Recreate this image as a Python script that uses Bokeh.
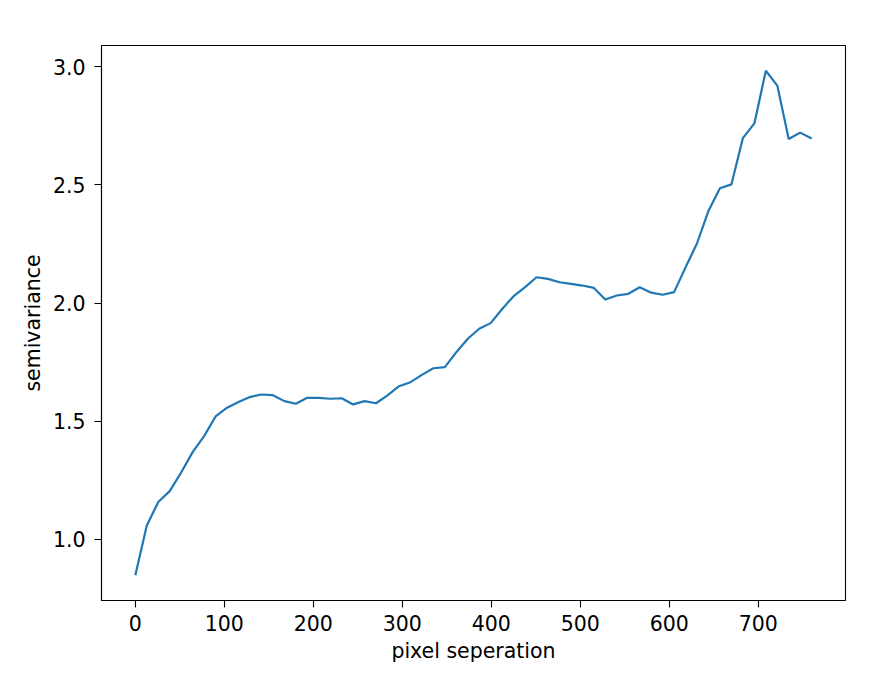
from bokeh.plotting import figure
from bokeh.models import Range1d, FixedTicker, NumeralTickFormatter
from bokeh.embed import file_html
from bokeh.resources import INLINE

# pixel separation (lag) values
lags = [0.0, 12.9, 25.8, 38.6, 51.5, 64.4, 77.3, 90.2, 103.1, 115.9,
        128.8, 141.7, 154.6, 167.5, 180.3, 193.2, 206.1, 219.0, 231.9, 244.7,
        257.6, 270.5, 283.4, 296.3, 309.2, 322.0, 334.9, 347.8, 360.7, 373.6,
        386.4, 399.3, 412.2, 425.1, 438.0, 450.8, 463.7, 476.6, 489.5, 502.4,
        515.3, 528.1, 541.0, 553.9, 566.8, 579.7, 592.5, 605.4, 618.3, 631.2,
        644.1, 656.9, 669.8, 682.7, 695.6, 708.5, 721.4, 734.2, 747.1, 760.0]

# semivariance values
semivariance = [0.848, 1.059, 1.158, 1.204, 1.283, 1.369, 1.437, 1.520, 1.557, 1.581,
                1.602, 1.613, 1.610, 1.585, 1.574, 1.599, 1.599, 1.595, 1.597, 1.571,
                1.585, 1.576, 1.609, 1.648, 1.665, 1.696, 1.724, 1.729, 1.792, 1.849,
                1.891, 1.915, 1.975, 2.029, 2.067, 2.109, 2.102, 2.088, 2.081, 2.074,
                2.064, 2.015, 2.032, 2.039, 2.067, 2.044, 2.035, 2.046, 2.151, 2.253,
                2.391, 2.486, 2.502, 2.698, 2.760, 2.983, 2.920, 2.694, 2.721, 2.696]

x_ticks = [0, 100, 200, 300, 400, 500, 600, 700]
y_ticks = [1.0, 1.5, 2.0, 2.5, 3.0]

x_label = "pixel seperation"
y_label = "semivariance"

# matplotlib-like 5% margins
xmin, xmax = min(lags), max(lags)
ymin, ymax = min(semivariance), max(semivariance)
xm = (xmax - xmin) * 0.05
ym = (ymax - ymin) * 0.05

W, H = 872, 666
p = figure(width=W, height=H, output_backend="svg", toolbar_location=None,
           x_range=Range1d(xmin - xm, xmax + xm),
           y_range=Range1d(ymin - ym, ymax + ym),
           min_border_left=101, min_border_top=45,
           min_border_right=W - 845, min_border_bottom=H - 600)

p.line(lags, semivariance, line_color="#1f77b4", line_width=2.2)

p.grid.visible = False
p.outline_line_color = "black"
p.outline_line_width = 1.1
p.background_fill_color = "white"
p.border_fill_color = "white"

FONT = "DejaVu Sans"
FS = "20.5px"

for ax in (p.xaxis[0], p.yaxis[0]):
    ax.axis_line_color = "black"
    ax.axis_line_width = 1.1
    ax.major_tick_line_color = "black"
    ax.major_tick_line_width = 1.1
    ax.major_tick_out = 7
    ax.major_tick_in = 0
    ax.minor_tick_line_color = None
    ax.major_label_text_font = FONT
    ax.major_label_text_font_size = FS
    ax.major_label_text_color = "black"
    ax.axis_label_text_font = FONT
    ax.axis_label_text_font_size = FS
    ax.axis_label_text_font_style = "normal"
    ax.axis_label_text_color = "black"

p.xaxis[0].ticker = FixedTicker(ticks=x_ticks)
p.yaxis[0].ticker = FixedTicker(ticks=y_ticks)
p.yaxis[0].formatter = NumeralTickFormatter(format="0.0")
p.xaxis[0].axis_label = x_label
p.yaxis[0].axis_label = y_label
p.xaxis[0].major_label_standoff = 7
p.yaxis[0].major_label_standoff = 9
p.xaxis[0].axis_label_standoff = 5
p.yaxis[0].axis_label_standoff = 5

open("out.html", "w").write(file_html(p, INLINE))
